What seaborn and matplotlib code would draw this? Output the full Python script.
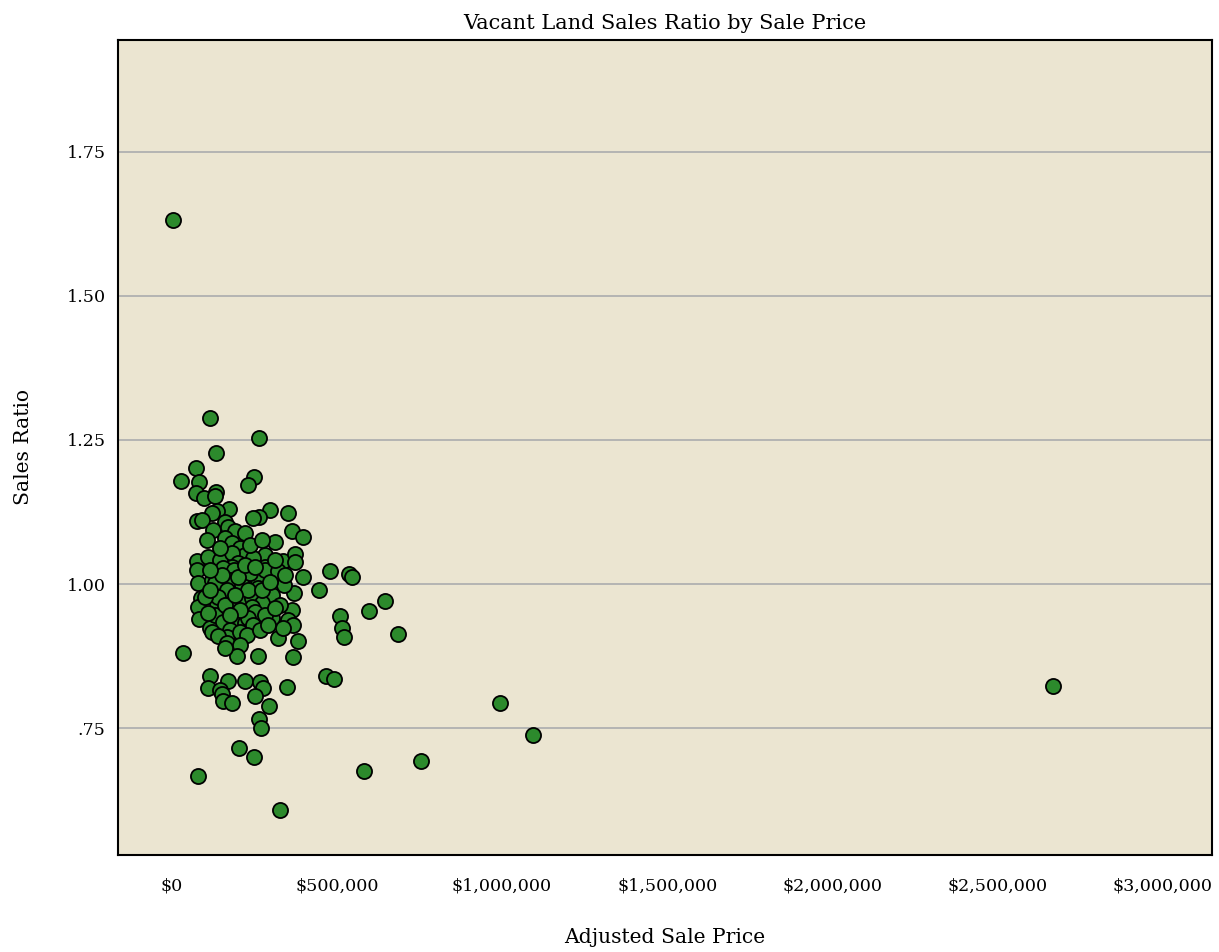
import matplotlib
matplotlib.use("Agg")
import matplotlib.pyplot as plt
import matplotlib.ticker as mticker
import pandas as pd
import seaborn as sns

# adjusted sale price (thousands of dollars)
price_k = [
    4, 115, 264, 133, 73, 27, 82, 248, 230, 73, 97, 133, 297, 264, 245, 352, 364, 397, 312,
    130, 173, 136, 121, 76, 91, 161, 124, 170, 191, 221, 161, 182, 206, 221, 282, 245, 336,
    373, 373, 76, 109, 145, 182, 200, 182, 282,
    76, 79, 88, 79, 82, 115, 121, 130, 155, 188, 176, 212, 167, 136, 139, 100, 185, 215,
    130, 109, 155, 200, 176, 221, 167, 206, 121, 139, 258, 236, 282, 321, 397, 479, 536,
    545, 445, 370, 303, 261, 242, 273, 242, 364, 303, 352, 367, 252, 230, 245, 321, 382,
    227, 645, 597, 509, 515, 521, 685,
    152, 200, 230, 273, 161, 206, 282, 327, 339, 297, 191, 115, 267, 291, 336, 176, 221,
    252, 312, 145, 236, 273, 106, 115, 342, 312,
    167, 206, 197, 161, 261, 367, 33, 115, 109, 170, 221, 267, 276, 252, 348, 294, 145,
    152, 155, 182, 467, 491, 264, 270, 203, 248, 79, 327, 582, 755, 994, 1094, 2667,
]

sales_ratio = [
    1.632, 1.288, 1.253, 1.227, 1.201, 1.179, 1.177, 1.186, 1.172, 1.158, 1.149, 1.160,
    1.128, 1.116, 1.115, 1.123, 1.092, 1.082, 1.073,
    1.153, 1.130, 1.127, 1.123, 1.109, 1.111, 1.108, 1.094, 1.099, 1.092, 1.089, 1.080,
    1.071, 1.062, 1.050, 1.050, 1.045, 1.040, 1.052, 1.038, 1.040, 1.047, 1.042, 1.054,
    1.036, 1.030, 1.030,
    1.024, 1.002, 0.976, 0.960, 0.939, 0.924, 1.007, 1.002, 1.028, 1.024, 1.007, 0.998,
    0.990, 0.967, 0.977, 0.977, 0.958, 0.976, 0.946, 0.950, 0.934, 0.938, 0.920, 0.932,
    0.908, 0.917, 0.917, 0.910, 1.010, 1.019, 1.024, 1.023, 1.012, 1.023, 1.017, 1.012,
    0.990, 0.984, 0.981, 0.993, 0.976, 0.967, 0.960, 0.955, 0.941, 0.938, 0.929, 0.951,
    0.941, 0.929, 0.906, 0.901, 0.911, 0.970, 0.953, 0.944, 0.924, 0.908, 0.913,
    1.016, 1.012, 0.990, 0.990, 0.964, 0.955, 0.946, 0.964, 0.998, 1.003, 0.981, 0.990,
    0.920, 0.929, 0.924, 0.946, 1.033, 1.030, 1.042, 1.062, 1.068, 1.076, 1.076, 1.024,
    1.016, 0.958,
    0.898, 0.894, 0.875, 0.889, 0.875, 0.873, 0.880, 0.840, 0.819, 0.832, 0.832, 0.830,
    0.819, 0.806, 0.821, 0.788, 0.816, 0.809, 0.797, 0.793, 0.840, 0.835, 0.766, 0.750,
    0.715, 0.700, 0.667, 0.608, 0.675, 0.693, 0.793, 0.738, 0.823,
]

x_ticks = [0, 500000, 1000000, 1500000, 2000000, 2500000, 3000000]
y_ticks = [0.75, 1.00, 1.25, 1.50, 1.75]

df = pd.DataFrame({"price": [p * 1000 for p in price_k], "ratio": sales_ratio})

sns.set_style("white")
plt.rcParams["font.family"] = ["DejaVu Serif"]
plt.rcParams["text.color"] = "black"
plt.rcParams["axes.labelcolor"] = "black"
plt.rcParams["xtick.color"] = "black"
plt.rcParams["ytick.color"] = "black"

fig = plt.figure(figsize=(12.19, 9.52), dpi=100)
ax = fig.add_axes([0.0968, 0.1019, 0.8975, 0.8561])
ax.set_facecolor("#ebe5d1")

sns.scatterplot(data=df, x="price", y="ratio", ax=ax, s=118, color="#2c8a2c",
                edgecolor="black", linewidth=1.3, zorder=3, legend=False)

ax.set_xlim(-163000, 3150000)
ax.set_ylim(0.53, 1.944)
ax.set_xticks(x_ticks)
ax.set_yticks(y_ticks)
ax.xaxis.set_major_formatter(mticker.FuncFormatter(lambda v, _: f"${v:,.0f}"))
ax.yaxis.set_major_formatter(
    mticker.FuncFormatter(lambda v, _: f"{v:.2f}".lstrip("0") if v < 1 else f"{v:.2f}"))
ax.yaxis.grid(True, color="#b0b0b0", linewidth=1.3, zorder=0)
ax.xaxis.grid(False)
ax.tick_params(axis="both", length=0, labelsize=12.6, pad=16)
ax.tick_params(axis="y", pad=9)

for sp in ax.spines.values():
    sp.set_color("black")
    sp.set_linewidth(1.5)

ax.set_title("Vacant Land Sales Ratio by Sale Price", fontsize=15, pad=8)
ax.set_xlabel("Adjusted Sale Price", fontsize=14.6, labelpad=24)
ax.set_ylabel("Sales Ratio", fontsize=14.6, labelpad=24)

fig.savefig("out.png", dpi=100)
